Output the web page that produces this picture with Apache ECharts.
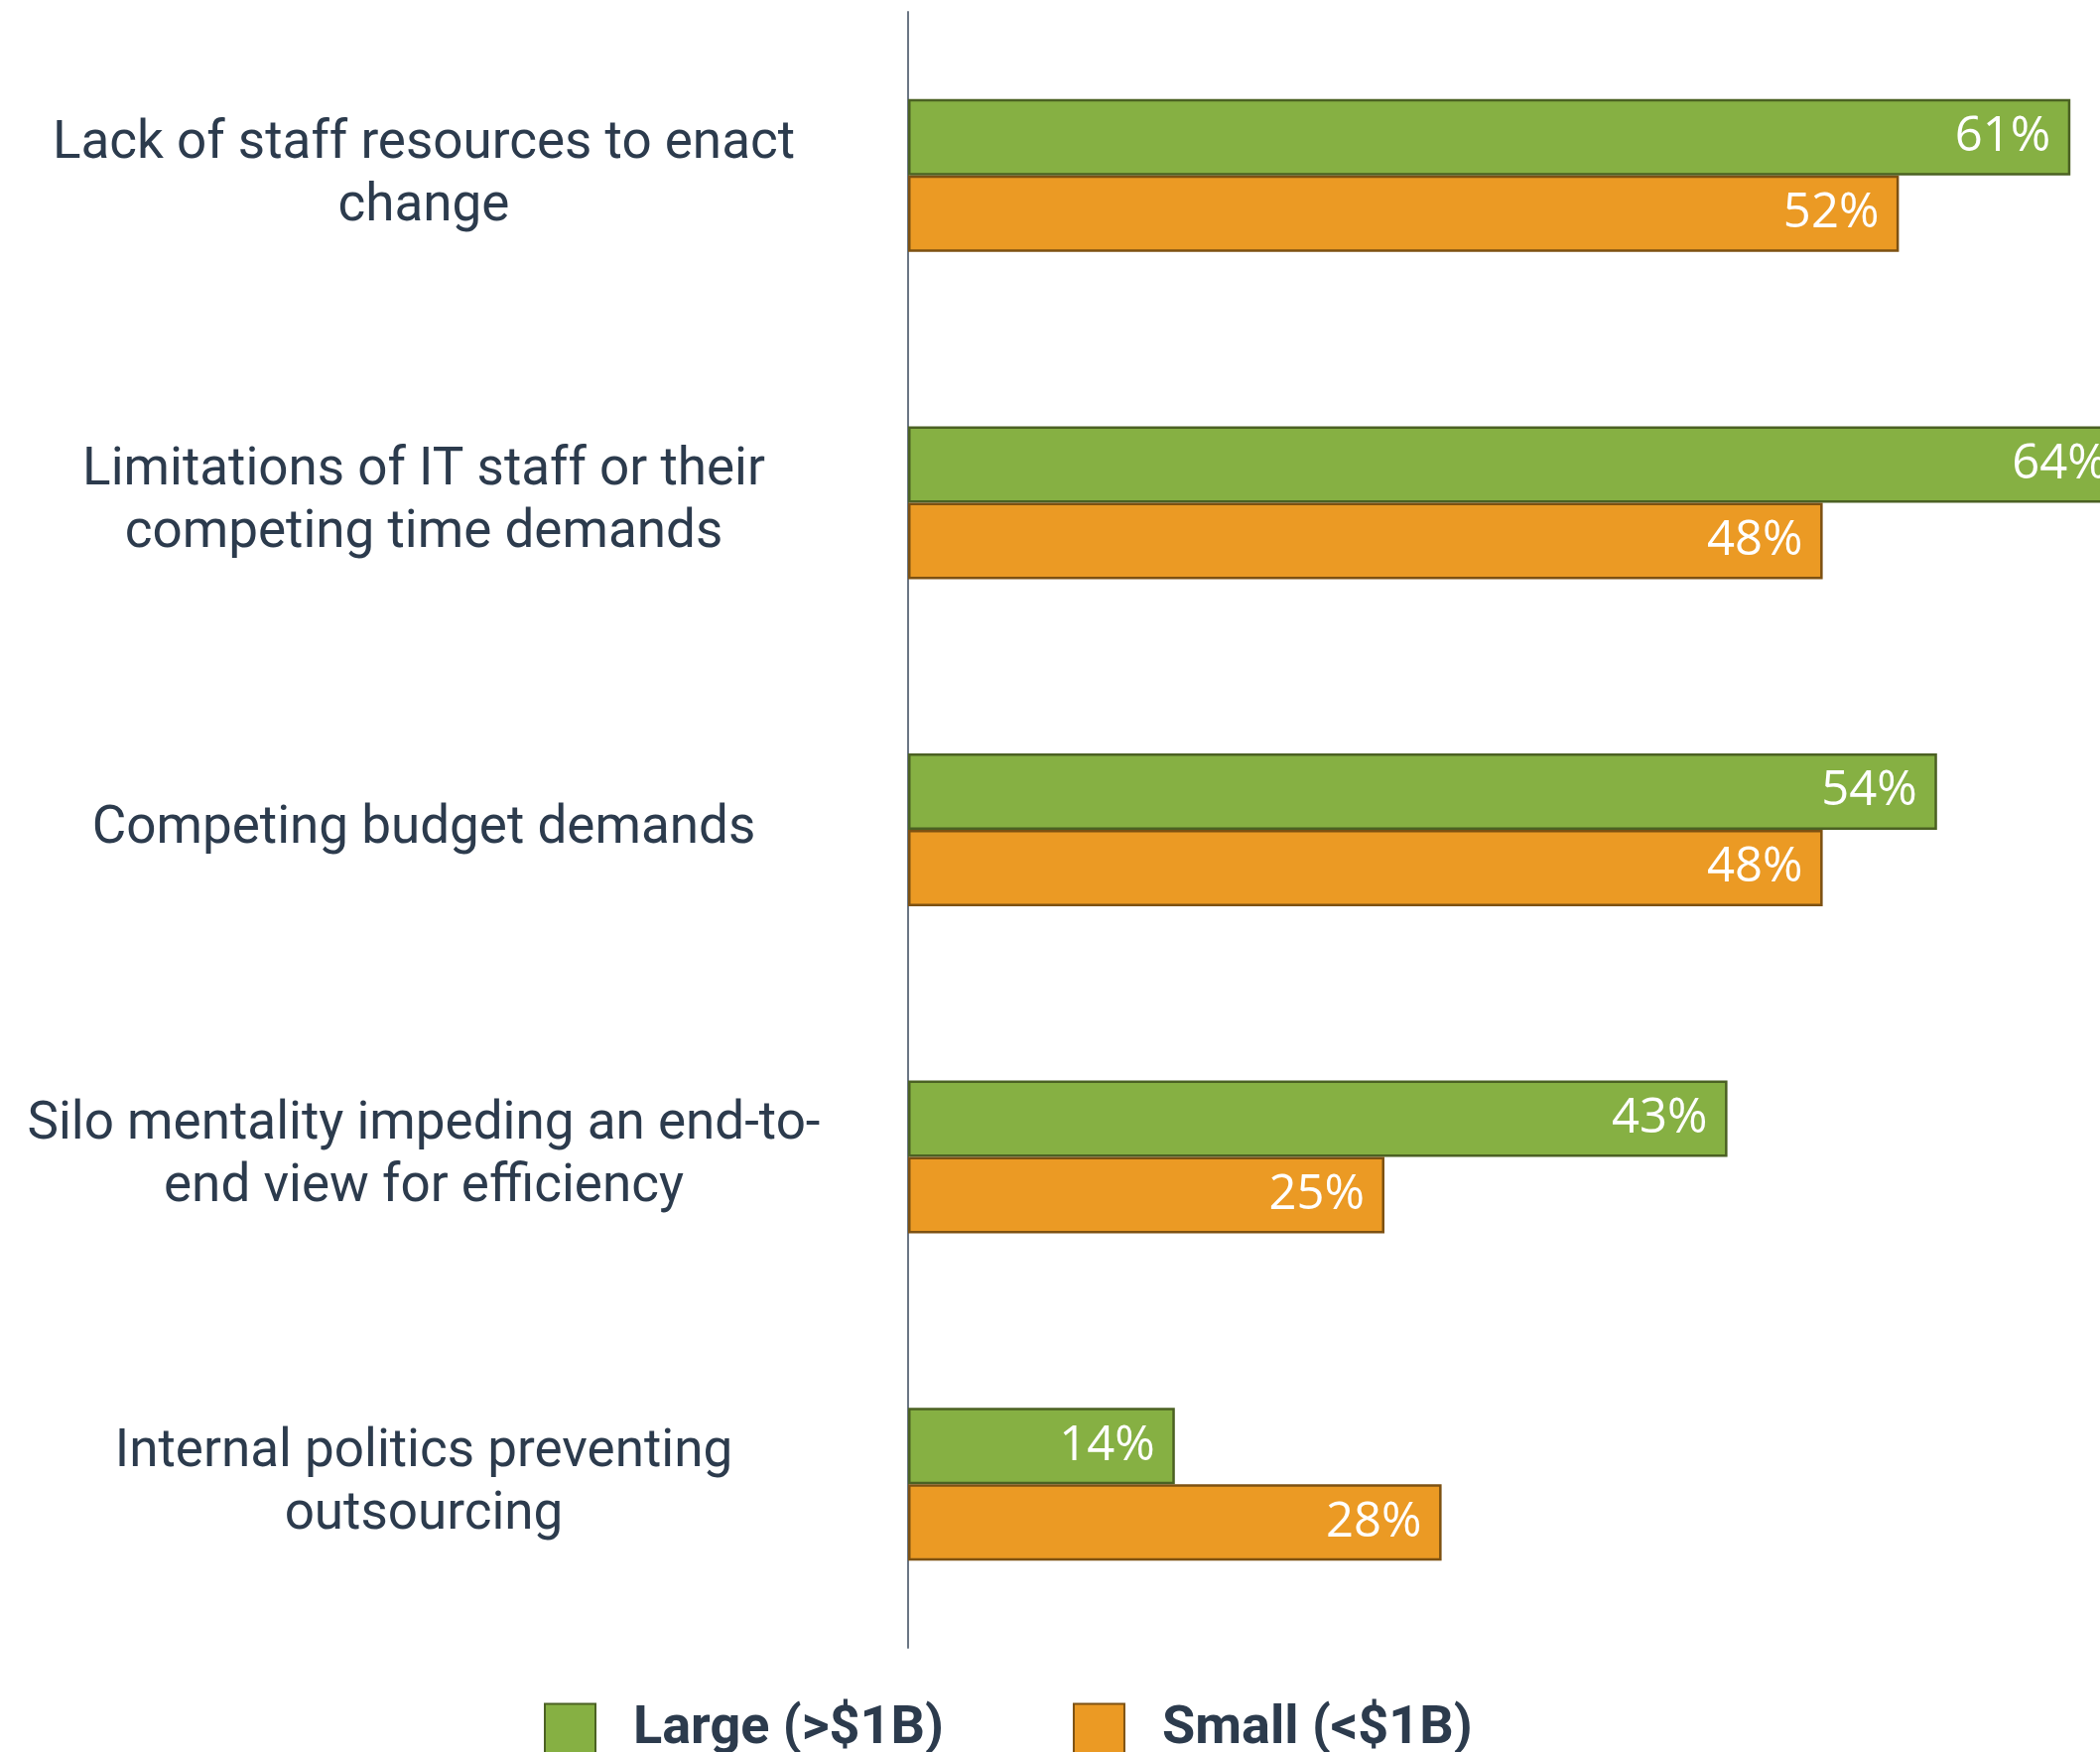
<!DOCTYPE html>
<html>
<head>
<meta charset="utf-8">
<script src="https://cdn.jsdelivr.net/npm/echarts@6/dist/echarts.min.js"></script>
<style>
html,body{margin:0;padding:0;background:#fff;}
#chart{width:2116px;height:1765px;}
</style>
</head>
<body>
<div id="chart"></div>
<script>
const categories = [
  "Lack of staff resources to enact\nchange",
  "Limitations of IT staff or their\ncompeting time demands",
  "Competing budget demands",
  "Silo mentality impeding an end-to-\nend view for efficiency",
  "Internal politics preventing\noutsourcing"
];
const seriesNames = ["Large (>$1B)", "Small (<$1B)"];
const largeValues = [61, 64, 54, 43, 14];
const smallValues = [52, 48, 48, 25, 28];

const chart = echarts.init(document.getElementById('chart'), null, {renderer: 'canvas'});

function barSeries(name, data, fill, border) {
  return {
    name: name,
    type: 'bar',
    data: data,
    barWidth: 77,
    barGap: '0%',
    clip: false,
    itemStyle: {color: fill, borderColor: border, borderWidth: 2.5},
    label: {
      show: true,
      position: 'insideRight',
      distance: 20,
      formatter: '{c}%',
      color: '#ffffff',
      fontFamily: 'Open Sans',
      fontSize: 49
    },
    emphasis: {disabled: true}
  };
}

chart.setOption({
  animation: false,
  backgroundColor: '#ffffff',
  grid: {left: 915, top: 12, width: 1200, height: 1648, containLabel: false},
  legend: {
    left: 543,
    top: 1710,
    itemWidth: 51,
    itemHeight: 51,
    itemGap: 130,
    icon: 'rect',
    data: seriesNames,
    textStyle: {
      fontFamily: 'Roboto',
      fontWeight: 'bold',
      fontSize: 54,
      color: '#2c3b4d',
      padding: [0, 0, 0, 33]
    }
  },
  xAxis: {
    type: 'value',
    min: 0,
    max: 62.5,
    show: false,
    splitLine: {show: false}
  },
  yAxis: {
    type: 'category',
    data: categories,
    inverse: true,
    axisLine: {show: true, lineStyle: {color: '#6b7684', width: 2}},
    axisTick: {show: false},
    axisLabel: {
      margin: 488,
      align: 'center',
      fontFamily: 'Roboto',
      fontSize: 53,
      lineHeight: 63,
      color: '#2c3b4d'
    }
  },
  series: [
    barSeries(seriesNames[0], largeValues, '#86b043', '#4b6123'),
    barSeries(seriesNames[1], smallValues, '#eb9a24', '#7d5112')
  ]
});
</script>
</body>
</html>
